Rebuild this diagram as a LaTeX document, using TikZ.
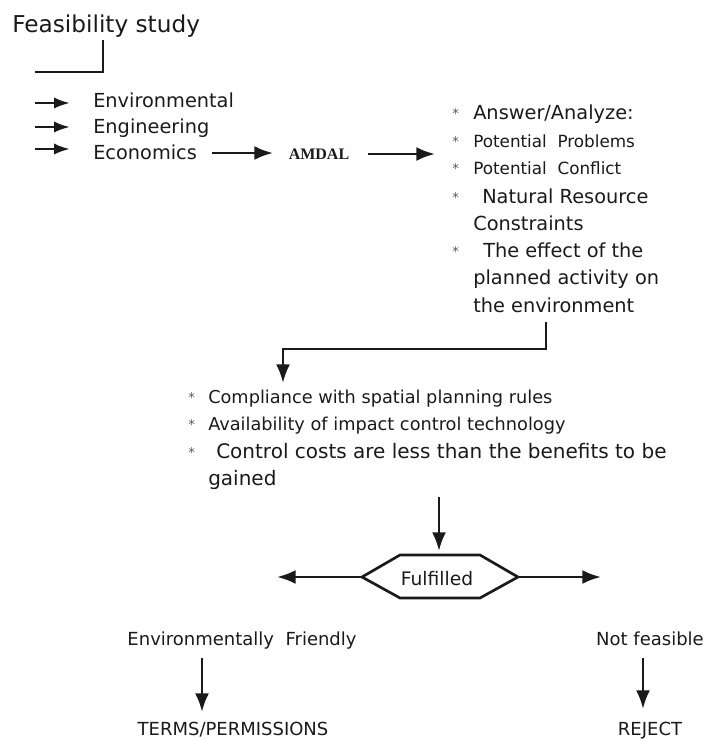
\documentclass[tikz,border=0pt]{standalone}
\usepackage{fontspec}
\setmainfont{DejaVu Sans}
\newfontfamily\amdalfont{Liberation Serif}
\usetikzlibrary{arrows.meta}
\definecolor{ink}{HTML}{1A1A1A}
\begin{document}
\begin{tikzpicture}[x=0.75pt,y=-0.75pt,
  line/.style={line width=2pt, draw=ink},
  arr/.style={line, -{Latex[length=14pt,width=10.5pt]}},
  sarr/.style={line, -{Latex[length=12pt,width=8.5pt]}},
  txt/.style={inner sep=0pt, anchor=base west, text=ink},
  ctxt/.style={inner sep=0pt, anchor=base, text=ink},
  bul/.style={inner sep=0pt, anchor=base west, text=black!65, font=\fontsize{10}{10}\selectfont},
  big/.style={font=\fontsize{14.5}{16}\selectfont},
  mid/.style={font=\fontsize{12.6}{14}\selectfont},
  low/.style={font=\fontsize{13.5}{15}\selectfont}]
\useasboundingbox (0,0) rectangle (705,740);
% title and bracket
\node[txt, font=\fontsize{17.4}{19}\selectfont] (title) at (12,32) {Feasibility study};
\coordinate (b1) at (103,40);
\coordinate (b2) at (103,72);
\coordinate (b3) at (35,72);
\draw[line] (b1) -- (b2) -- (b3);
% three categories
\node[txt, big] (env) at (93,107) {Environmental};
\node[txt, big] (eng) at (93,133) {Engineering};
\node[txt, big] (eco) at (93,159) {Economics};
\coordinate (a1) at (35,103); \coordinate (a1e) at (70,103);
\coordinate (a2) at (35,127); \coordinate (a2e) at (70,127);
\coordinate (a3) at (35,149); \coordinate (a3e) at (70,149);
\draw[sarr] (a1) -- (a1e);
\draw[sarr] (a2) -- (a2e);
\draw[sarr] (a3) -- (a3e);
% AMDAL
\node[ctxt, font=\amdalfont\bfseries\fontsize{12}{14}\selectfont] (amdal) at (319,159) {AMDAL};
\coordinate (e1) at (212,153);
\coordinate (e2) at (273,153);
\draw[arr] (e1) -- (e2);
\coordinate (m1) at (368,154);
\coordinate (m2) at (435,154);
\draw[arr] (m1) -- (m2);
% right list
\node[bul] (rb1) at (452,118) {*};
\node[bul] (rb2) at (452,146) {*};
\node[bul] (rb3) at (452,173) {*};
\node[bul] (rb4) at (452,202) {*};
\node[bul] (rb5) at (452,256) {*};
\node[txt, big] (r1) at (473,119) {Answer/Analyze:};
\node[txt, mid] (r2) at (473,147) {Potential\ \ Problems};
\node[txt, mid] (r3) at (473,174) {Potential\ \ Conflict};
\node[txt, big] (r4) at (482,203) {Natural Resource};
\node[txt, big] (r5) at (473,230) {Constraints};
\node[txt, big] (r6) at (483,257) {The effect of the};
\node[txt, big] (r7) at (473,284) {planned activity on};
\node[txt, big] (r8) at (473,312) {the environment};
% connector to middle list
\coordinate (c1) at (546,322);
\coordinate (c2) at (546,349);
\coordinate (c3) at (283,349);
\coordinate (c4) at (283,383);
\draw[arr, line join=miter] (c1) -- (c2) -- (c3) -- (c4);
% middle list
\node[bul] (mb1) at (188,402) {*};
\node[bul] (mb2) at (188,429) {*};
\node[bul] (mb3) at (188,457) {*};
\node[txt, font=\fontsize{13.3}{15}\selectfont] (l1) at (208,403) {Compliance with spatial planning rules};
\node[txt, font=\fontsize{13.3}{15}\selectfont] (l2) at (208,430) {Availability of impact control technology};
\node[txt, font=\fontsize{15}{17}\selectfont] (l3) at (216,458) {Control costs are less than the benefits to be};
\node[txt, font=\fontsize{15}{17}\selectfont] (l4) at (208,485) {gained};
% arrow to decision
\coordinate (d1) at (439,497);
\coordinate (d2) at (439,551);
\draw[arr] (d1) -- (d2);
% hexagon
\node[ctxt, font=\fontsize{14}{16}\selectfont] (ful) at (437,585) {Fulfilled};
\coordinate (hl) at (362,577);
\coordinate (hr) at (518,577);
\draw[line, line join=miter] (hl) -- (400,555) -- (480,555) -- (hr) -- (480,598) -- (400,598) -- cycle;
\coordinate (hle) at (277,577);
\coordinate (hre) at (601,577);
\draw[arr] (hl) -- (hle);
\draw[arr] (hr) -- (hre);
% bottom outcomes
\node[ctxt, low] (ef) at (242,645) {Environmentally\ \ Friendly};
\node[ctxt, low] (tp) at (233,735) {TERMS/PERMISSIONS};
\node[ctxt, low] (nf) at (650,645) {Not feasible};
\node[ctxt, low] (rj) at (650,735) {REJECT};
\coordinate (f1) at (202,658);
\coordinate (f2) at (202,712);
\draw[arr] (f1) -- (f2);
\coordinate (n1) at (643,658);
\coordinate (n2) at (643,709);
\draw[arr] (n1) -- (n2);
\end{tikzpicture}
\end{document}
